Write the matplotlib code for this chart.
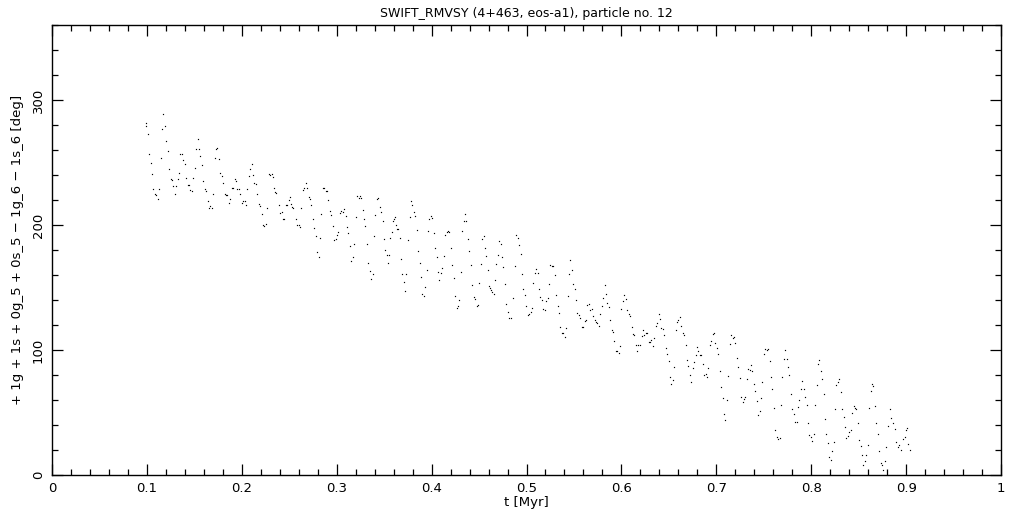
import matplotlib
matplotlib.use("Agg")
import matplotlib.pyplot as plt
from matplotlib.ticker import MultipleLocator

t_myr = [
0.0990,0.0987,0.1015,0.1025,0.1046,0.1057,0.1067,0.1088,0.1096,0.1120,0.1131,0.1152,0.1162,0.1173,0.1194,0.1204,
0.1225,0.1236,0.1257,0.1268,0.1278,0.1299,0.1310,0.1331,0.1341,0.1352,0.1373,0.1384,0.1405,0.1415,0.1436,0.1447,
0.1457,0.1478,0.1489,0.1510,0.1520,0.1542,0.1552,0.1563,0.1584,0.1594,0.1615,0.1626,0.1647,0.1657,0.1668,0.1689,
0.1700,0.1721,0.1731,0.1742,0.1763,0.1773,0.1794,0.1805,0.1826,0.1837,0.1847,0.1868,0.1879,0.1900,0.1910,0.1931,
0.1942,0.1953,0.1974,0.1984,0.2005,0.2016,0.2037,0.2047,0.2058,0.2079,0.2090,0.2111,0.2121,0.2132,0.2153,0.2163,
0.2184,0.2195,0.2216,0.2226,0.2237,0.2258,0.2269,
0.2290,0.2300,0.2321,0.2332,0.2342,0.2353,0.2363,0.2395,0.2406,0.2427,0.2437,0.2448,0.2469,0.2479,0.2500,0.2511,
0.2522,0.2532,0.2543,0.2574,0.2585,0.2606,0.2616,0.2627,0.2648,0.2659,0.2680,0.2690,0.2711,0.2722,0.2732,0.2753,
0.2764,0.2785,0.2795,0.2817,0.2827,0.2838,0.2859,0.2869,0.2890,0.2901,0.2911,0.2933,0.2943,0.2964,0.2975,0.2996,
0.3006,0.3017,0.3038,0.3048,0.3070,0.3080,0.3101,0.3112,0.3122,0.3143,0.3154,0.3175,0.3185,0.3206,0.3217,0.3238,
0.3249,0.3259,0.3280,0.3291,0.3301,0.3322,0.3333,0.3354,0.3365,0.3386,0.3396,0.3407,0.3428,0.3438,0.3459,0.3470,
0.3491,0.3501,0.3512,0.3533,0.3544,0.3554,0.3565,0.3586,0.3596,0.3607,0.3617,0.3628,0.3638,0.3649,
0.3670,0.3681,0.3691,0.3712,0.3723,0.3733,0.3754,0.3776,0.3786,0.3797,0.3818,0.3828,0.3849,0.3860,0.3881,0.3891,
0.3902,0.3923,0.3934,0.3955,0.3965,0.3976,0.3997,0.4007,0.4028,0.4039,0.4060,0.4070,0.4081,0.4102,0.4113,0.4134,
0.4144,0.4165,0.4176,0.4186,0.4208,0.4218,0.4239,0.4250,0.4271,0.4281,0.4292,0.4313,0.4323,0.4344,0.4355,0.4366,
0.4387,0.4397,0.4418,0.4429,0.4450,0.4460,0.4481,0.4492,0.4503,0.4524,0.4534,0.4555,0.4566,0.4576,0.4597,0.4608,
0.4619,0.4629,0.4640,0.4661,0.4671,0.4682,0.4703,0.4713,0.4734,0.4745,0.4755,0.4777,0.4787,0.4808,0.4819,0.4840,
0.4861,0.4882,0.4892,0.4913,0.4924,0.4945,0.4956,0.4966,0.4987,0.4998,0.5019,0.5030,
0.5050,0.5061,0.5071,0.5092,0.5103,0.5124,0.5135,0.5145,0.5166,0.5177,0.5198,0.5209,0.5230,0.5240,0.5251,0.5272,
0.5282,0.5303,0.5314,0.5335,0.5346,0.5356,0.5377,0.5388,0.5409,0.5419,0.5440,0.5451,0.5461,0.5483,0.5493,0.5514,
0.5525,0.5535,0.5556,0.5567,0.5588,0.5598,0.5620,0.5630,0.5641,0.5662,0.5672,0.5693,0.5704,0.5725,0.5736,0.5746,
0.5767,0.5778,0.5799,0.5809,0.5830,0.5841,0.5851,0.5872,0.5883,0.5904,0.5915,0.5925,0.5946,0.5957,0.5978,0.5988,
0.5999,0.6020,0.6030,0.6051,0.6062,0.6083,0.6094,0.6115,0.6125,0.6136,0.6157,0.6167,0.6178,0.6199,0.6220,0.6231,
0.6241,0.6262,0.6273,0.6294,0.6304,0.6315,0.6336,0.6346,0.6367,0.6378,0.6399,
0.6410,0.6420,0.6441,0.6452,0.6473,0.6484,0.6505,0.6515,0.6526,0.6547,0.6557,0.6578,0.6589,0.6600,0.6621,0.6631,
0.6652,0.6663,0.6684,0.6694,0.6705,0.6726,0.6736,0.6757,0.6768,0.6789,0.6800,0.6810,0.6831,0.6842,0.6863,0.6873,
0.6894,0.6905,0.6915,0.6937,0.6947,0.6968,0.6979,0.6989,0.7010,0.7021,0.7042,0.7053,0.7074,0.7084,0.7095,0.7116,
0.7126,0.7147,0.7158,0.7179,0.7190,0.7200,0.7221,0.7232,0.7253,0.7263,0.7284,0.7295,0.7306,0.7327,0.7337,0.7358,
0.7369,0.7379,0.7400,0.7411,0.7432,0.7442,0.7463,0.7474,0.7484,0.7506,0.7516,0.7537,0.7548,0.7569,0.7579,0.7590,
0.7611,0.7621,0.7643,0.7653,0.7674,0.7685,0.7695,0.7716,0.7727,0.7748,0.7758,0.7769,
0.7790,0.7801,0.7822,0.7832,0.7854,0.7864,0.7875,0.7896,0.7906,0.7927,0.7938,0.7959,0.7969,0.7980,0.8001,0.8012,
0.8033,0.8043,0.8064,0.8075,0.8085,0.8107,0.8117,0.8138,0.8149,0.8159,0.8180,0.8191,0.8212,0.8222,0.8243,0.8254,
0.8264,0.8286,0.8296,0.8317,0.8328,0.8349,0.8359,0.8370,0.8391,0.8401,0.8422,0.8433,0.8454,0.8464,0.8475,0.8496,
0.8507,0.8528,0.8538,0.8549,0.8570,0.8580,0.8601,0.8612,0.8633,0.8644,0.8654,0.8675,0.8686,0.8707,0.8717,0.8738,
0.8749,0.8759,0.8780,0.8791,0.8812,0.8833,0.8844,0.8865,0.8886,0.8896,0.8917,0.8928,0.8949,0.8970,0.8991,0.9002,
0.9012,0.9023,0.9044,
]

angle_deg = [
282,279,272.5,257,250,241,229,225,224,220.5,229,254,277,289,279,267,
259,245,236.5,235.7,231,225,231,236.5,242,257,256.5,252,248.5,238,232,232,
228,227,238,246,260.5,268.5,260.5,255,248,235,229,227,219,214,215,214,
224.5,254,260.5,262,252.5,242,239,234,225,224,224,218,221,229.5,229.5,237,
235,228.5,228.5,224.5,218,219,219,216,228.5,239,244.5,248.5,240,234,233,224.5,
216.5,215,209,200,199,201,214,
240.5,239.7,240.5,238.1,229.3,226.1,225.3,215.7,209.3,210.1,204.5,204.5,215.7,215.7,219.7,222.1,
216.5,214.1,213.3,204.5,199.7,199.7,198.1,213.3,227.7,229.3,233.3,229.3,222.1,220.5,215.7,204.5,
197.3,190.9,178.1,174.1,189.3,208.5,229.3,229.3,226.9,226.9,219.7,210.9,207.7,198.9,187.7,188.5,
191.7,194.1,209.3,210.9,210.1,212.5,206.9,198.1,193.3,182.9,170.9,174.1,184.5,206.1,222.9,221.3,
222.9,221.3,211.7,204.5,198.9,184.5,169.3,162.9,156.5,160.5,190.9,207.7,220.5,221.3,214.1,210.1,
202.9,188.5,179.7,175.7,169.3,175.7,189.3,194.1,202.9,204.5,206.1,199.7,196.5,196.5,
189.3,172.5,160.5,154.1,146.9,160.5,187.7,206.1,218.9,215.7,210.1,206.9,195.7,178.9,169.3,158.1,
144.5,142.9,150.1,163.7,194.9,204.5,206.9,205.3,193.3,181.3,174.1,162.1,155.7,161.3,165.3,174.9,
191.7,194.1,194.9,194.1,181.3,167.7,157.3,142.9,133.3,134.9,139.7,162.1,194.9,202.9,208.5,202.9,
188.5,178.9,167.7,151.7,142.1,140.5,134.9,135.7,153.3,168.5,188.5,190.9,181.3,174.9,163.7,150.9,
149.3,147.7,146.1,144.5,155.7,168.5,175.7,186.9,184.5,174.1,166.1,152.5,136.5,130.1,125.3,125.3,
141.3,166.9,191.7,189.3,183.7,176.5,160.5,148.5,143.7,134.9,127.7,128.5,
130.1,133.3,153.3,161.3,164.5,161.3,148.5,142.1,139.7,132.5,131.7,138.9,141.3,152.5,167.7,166.9,
166.9,159.7,143.7,134.9,129.3,118.1,113.3,113.3,110.1,117.3,142.9,160.5,171.7,163.7,152.5,148.5,
139.7,129.3,127.7,125.3,118.1,118.1,122.9,123.7,135.7,136.5,131.7,132.5,126.9,123.7,122.1,121.3,
118.9,128.5,134.9,141.3,151.7,144.5,137.3,134.1,123.7,115.7,114.1,106.9,98.9,98.9,97.3,102.9,
132.5,138.9,143.7,140.5,131.7,128.5,126.9,118.1,112.5,111.7,103.7,98.9,103.7,103.7,110.9,115.7,
111.7,113.3,113.3,106.1,106.1,107.7,102.9,109.3,118.9,121.3,128.5,
124.5,117.3,116.5,111.7,101.3,96.5,90.9,78.1,72.5,75.7,86.1,115.7,122.1,123.7,126.1,118.9,
113.3,111.7,103.7,91.7,86.9,79.7,74.1,85.3,90.1,95.7,102.1,98.9,95.7,95.7,88.5,79.7,
80.5,78.1,85.3,103.7,106.9,112.5,113.3,105.3,101.3,96.5,82.9,70.1,61.3,48.5,43.7,59.7,
78.9,104.5,111.7,109.3,110.1,105.3,93.3,86.1,77.3,62.1,58.1,60.5,62.1,76.5,84.5,83.7,
87.7,82.9,72.5,66.9,58.9,47.7,50.9,61.3,74.1,96.5,100.5,99.7,100.5,90.9,78.1,68.5,
53.3,35.7,30.1,28.5,29.3,55.7,78.1,92.5,99.7,92.5,86.1,79.7,
64.5,52.5,48.5,42.1,42.1,54.1,59.7,68.5,74.9,68.5,62.1,55.7,41.3,31.7,30.1,26.9,
32.5,55.7,71.7,88.5,91.7,82.9,76.5,64.5,44.5,32.5,25.3,14.1,11.7,18.9,26.1,52.5,
71.7,74.1,76.5,66.1,52.5,46.1,38.1,29.3,30.9,34.1,35.7,49.3,54.9,53.3,52.5,41.3,
27.7,22.9,15.7,7.7,10.9,15.7,23.7,53.3,66.9,72.5,70.9,54.9,41.3,32.5,18.9,9.3,
7.7,3.7,10.9,22.1,38.9,52.5,45.3,41.3,36.5,26.1,22.1,23.7,19.7,28.5,30.1,35.7,
37.3,24.5,19.7,
]

x_ticks = [0, 0.1, 0.2, 0.3, 0.4, 0.5, 0.6, 0.7, 0.8, 0.9, 1.0]
x_tick_labels = ["0", "0.1", "0.2", "0.3", "0.4", "0.5", "0.6", "0.7", "0.8", "0.9", "1"]
y_ticks = [0, 100, 200, 300]
y_tick_labels = ["0", "100", "200", "300"]

title = "SWIFT_RMVSY (4+463, eos-a1), particle no. 12"
x_label = "t [Myr]"
y_label = "+ 1g + 1s + 0g_5 + 0s_5 \u2212 1g_6 \u2212 1s_6 [deg]"

plt.rcParams["font.family"] = ["DejaVu Sans"]
fig = plt.figure(figsize=(10.21, 5.11), dpi=100)
ax = fig.add_axes([52 / 1021, 1 - 475 / 511, 949 / 1021, 450 / 511])

ax.plot(t_myr, angle_deg, linestyle="none", marker="s", markersize=0.85,
        markeredgewidth=0, color="black", antialiased=False)

ax.set_xlim(0, 1)
ax.set_ylim(0, 360)
ax.set_xticks(x_ticks)
ax.set_xticklabels(x_tick_labels)
ax.set_yticks(y_ticks)
ax.set_yticklabels(y_tick_labels, rotation=90, va="center")
ax.xaxis.set_minor_locator(MultipleLocator(0.02))
ax.yaxis.set_minor_locator(MultipleLocator(20))
ax.tick_params(which="both", direction="in", top=True, right=True,
               labelsize=9.5, width=0.9, colors="black")
ax.tick_params(which="major", length=8, pad=5)
ax.tick_params(which="minor", length=4)
for s in ax.spines.values():
    s.set_linewidth(1.0)

ax.set_title(title, fontsize=9, pad=6)
ax.set_xlabel(x_label, fontsize=9.5, labelpad=1)
ax.set_ylabel(y_label, fontsize=9.5, labelpad=6)

fig.savefig("out.png", dpi=100, facecolor="white")
